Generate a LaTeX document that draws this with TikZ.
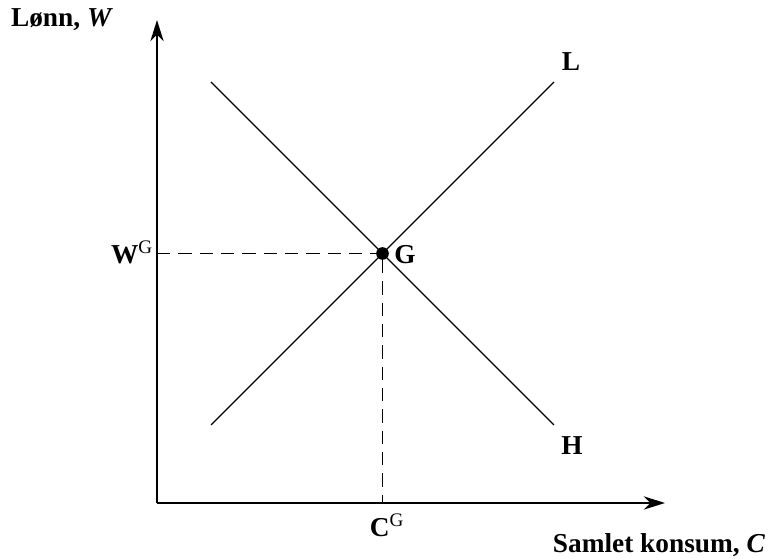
\documentclass[tikz,border=0pt]{standalone}
\usepackage{fontspec}
\setmainfont{Liberation Serif}
\usetikzlibrary{arrows.meta,positioning}
\tikzset{
    axisarr/.style={-{Stealth[length=16pt, width=10pt, inset=5pt]}, line width=1.4pt},
    curve/.style={line width=0.95pt},
    guide/.style={line width=0.8pt, dash pattern=on 10pt off 6pt},
    lbl/.style={font=\fontsize{20.5}{23}\selectfont\bfseries, inner sep=0pt},
    eqdot/.style={circle, fill=black, minimum size=9.5pt, inner sep=0pt},
}

\begin{document}
\begin{tikzpicture}[x=0.75pt, y=0.75pt]
\useasboundingbox (-157,-56) rectangle (619,503);
% axes
\coordinate (origin) at (0,0);
\coordinate (ytop) at (0,483);
\coordinate (xend) at (508,0);
\draw[axisarr] (origin) -- (ytop);
\draw[axisarr] (origin) -- (xend);
\node[lbl] (ylabel) at (-95,483) {Lønn, \textit{W}};
\node[lbl] (xlabel) at (502,-42) {Samlet konsum, \textit{C}};

% the two lines
\coordinate (Lstart) at (54,78);
\coordinate (Lend) at (397,421);
\coordinate (Hstart) at (54,421);
\coordinate (Hend) at (397,78);
\draw[curve] (Lstart) -- (Lend);
\draw[curve] (Hstart) -- (Hend);
\node[lbl] (Ltext) at (414,441) {L};
\node[lbl] (Htext) at (415,57) {H};

% equilibrium
\node[eqdot] (G) at (225.5,249.5) {};
\node[lbl] (Gtext) at (248,248) {G};
\coordinate (wg) at (0,249.5);
\coordinate (cg) at (225.5,0);
\draw[guide] (wg) -- (G);
\draw[guide] (G) -- (cg);
\node[lbl] (WGtext) at (-25,251) {W\textsuperscript{\mdseries G}};
\node[lbl] (CGtext) at (230,-22) {C\textsuperscript{\mdseries G}};
\end{tikzpicture}
\end{document}
